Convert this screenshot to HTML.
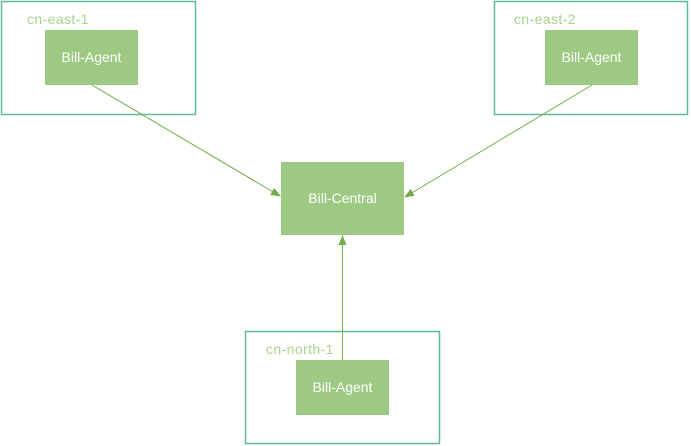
<!DOCTYPE html>
<html><head><meta charset="utf-8"><style>
html,body{margin:0;padding:0;background:#fff;}
svg{display:block;}
text{font-family:"Liberation Sans",sans-serif;}
</style></head><body>
<svg width="691" height="446" viewBox="0 0 691 446" xmlns="http://www.w3.org/2000/svg">
<defs>
<marker id="ah" markerWidth="10" markerHeight="10" refX="9" refY="5" orient="auto" markerUnits="userSpaceOnUse">
<path d="M0,1 L10,5 L0,9 Z" fill="#70ad47"/>
</marker>
</defs>
<!-- outer boxes -->
<rect x="1.5" y="1.5" width="194" height="113" fill="none" stroke="#5db8a2" stroke-width="1.5"/>
<rect x="494.5" y="1.5" width="193" height="113" fill="none" stroke="#5db8a2" stroke-width="1.5"/>
<rect x="245.5" y="331.5" width="194" height="112" fill="none" stroke="#5db8a2" stroke-width="1.5"/>
<!-- labels -->
<text x="27" y="24" font-size="14" fill="#a9d18e" letter-spacing="0.4">cn-east-1</text>
<text x="514" y="24" font-size="14" fill="#a9d18e" letter-spacing="0.4">cn-east-2</text>
<text x="266" y="354" font-size="14" fill="#a9d18e" letter-spacing="0.4">cn-north-1</text>
<!-- inner boxes -->
<rect x="45" y="30" width="93" height="55" fill="#9dc983"/>
<rect x="545" y="30" width="93" height="55" fill="#9dc983"/>
<rect x="296" y="360" width="93" height="55" fill="#9dc983"/>
<rect x="281" y="162" width="123" height="73" fill="#9dc983"/>
<text x="91.5" y="62" font-size="14" fill="#fff" text-anchor="middle">Bill-Agent</text>
<text x="591.5" y="62" font-size="14" fill="#fff" text-anchor="middle">Bill-Agent</text>
<text x="342.5" y="392" font-size="14" fill="#fff" text-anchor="middle">Bill-Agent</text>
<text x="342.5" y="203" font-size="14" fill="#fff" text-anchor="middle">Bill-Central</text>
<!-- connectors -->
<line x1="92" y1="85" x2="280" y2="196" stroke="#70ad47" stroke-width="1" marker-end="url(#ah)"/>
<line x1="592" y1="85" x2="405" y2="197" stroke="#70ad47" stroke-width="1" marker-end="url(#ah)"/>
<line x1="342.5" y1="360" x2="342.5" y2="236" stroke="#70ad47" stroke-width="1" marker-end="url(#ah)"/>
</svg>
</body></html>
